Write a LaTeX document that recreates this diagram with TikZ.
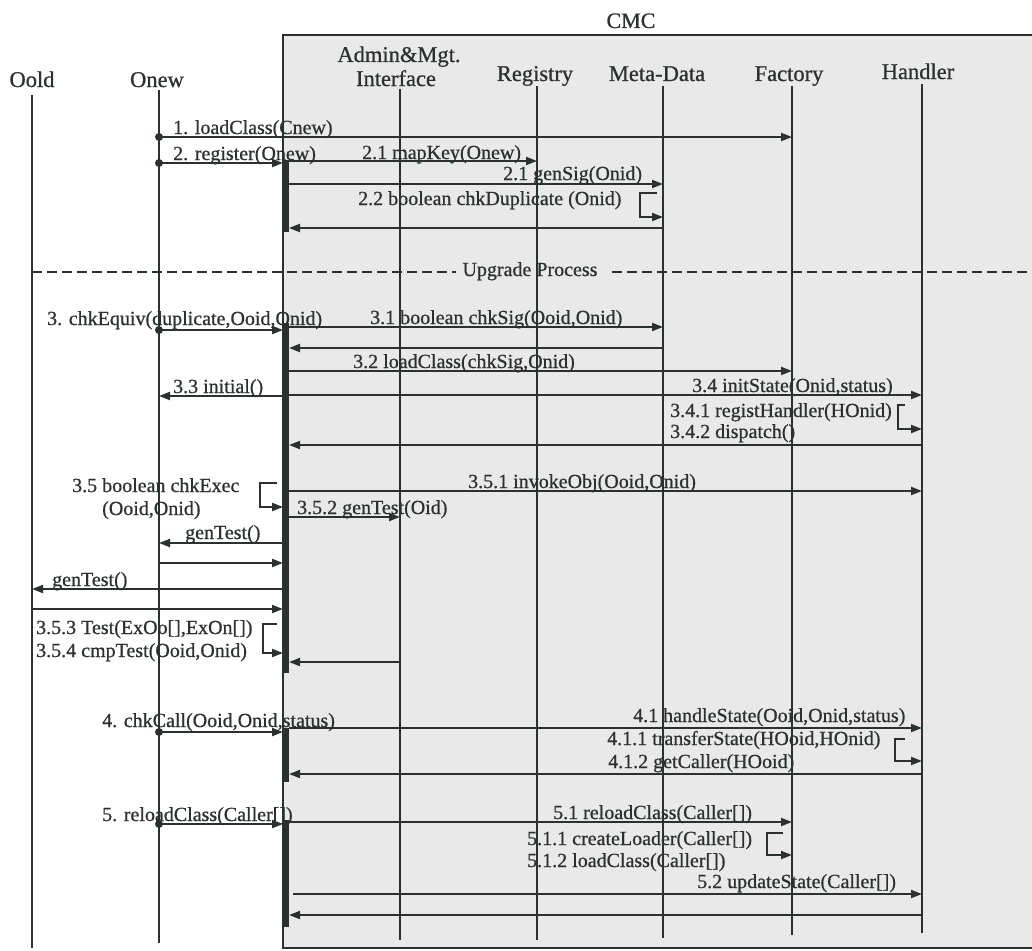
\documentclass[tikz,border=0pt]{standalone}
\usepackage{fontspec}
\setmainfont{Liberation Serif}
\newfontfamily\labelfont{Liberation Serif}[FakeBold=0.7]
\usetikzlibrary{arrows.meta}
\definecolor{ink}{HTML}{2B3030}
\definecolor{panel}{HTML}{E9E9E9}
\begin{document}
\begin{tikzpicture}[x=1pt,y=-1pt,
  font=\labelfont\fontsize{20}{24}\selectfont, text=ink,
  every node/.style={inner sep=0pt},
  lbl/.style={anchor=base west},
  head/.style={anchor=base,font=\labelfont\fontsize{22.5}{26}\selectfont},
  life/.style={draw=ink,line width=2pt},
  msg/.style={draw=ink,line width=2pt,-{Triangle[length=11pt,width=8pt]}},
  bracket/.style={draw=ink,line width=2pt,-{Triangle[length=11pt,width=8pt]}},
  actbar/.style={draw=ink,line width=5pt},
  startdot/.style={circle,fill=ink,minimum size=8pt},
  phase/.style={draw=ink,line width=2.6pt,dash pattern=on 10pt off 5pt}
]
\clip (0,0) rectangle (1032,950);
\fill[white] (0,0) rectangle (1032,950);

% CMC component frame
\fill[panel] (283,35) rectangle (1040,948);
\draw[ink,line width=2.5pt] (1040,35) -- (283,35) -- (283,948) -- (1040,948);
\node[head,font=\labelfont\fontsize{22}{26}\selectfont] (cmc) at (631,28) {CMC};

% lifeline positions
\coordinate (oold) at (32,0);
\coordinate (onew) at (159,0);
\coordinate (ifcL) at (283,0);
\coordinate (ifcR) at (289,0);
\coordinate (ifc)  at (400,0);
\coordinate (reg)  at (537,0);
\coordinate (meta) at (663,0);
\coordinate (fact) at (792,0);
\coordinate (hand) at (922,0);

% headers
\node[head] (hOold) at (32,87) {Oold};
\node[head] (hOnew) at (157,87) {Onew};
\node[head] (hAdm)  at (399,62) {Admin\&Mgt.};
\node[head] (hIfc)  at (396,86) {Interface};
\node[head] (hReg)  at (535,81) {Registry};
\node[head] (hMeta) at (657,81) {Meta-Data};
\node[head] (hFact) at (789,81) {Factory};
\node[head] (hHand) at (918,79) {Handler};

% lifelines
\draw[life] (oold |- 0,95) -- (oold |- 0,948);
\draw[life] (onew |- 0,90) -- (onew |- 0,943);
\draw[life] (ifc  |- 0,89) -- (ifc  |- 0,940);
\draw[life] (reg  |- 0,86) -- (reg  |- 0,940);
\draw[life] (meta |- 0,86) -- (meta |- 0,938);
\draw[life] (fact |- 0,86) -- (fact |- 0,935);
\draw[life] (hand |- 0,84) -- (hand |- 0,933);

% activation of the interface
\draw[actbar] (286,160) -- (286,232);
\draw[actbar] (286,323) -- (286,673);
\draw[actbar] (286,728) -- (286,782);
\draw[actbar] (286,820) -- (286,927);

% registration
\draw[msg] (onew |- 0,137) -- (fact |- 0,137);
\node[startdot] (d1) at (onew |- 0,137) {};
\node[lbl] (m1) at (173,134) {1. loadClass(Cnew)};
\draw[msg] (onew |- 0,163) -- (ifcL |- 0,163);
\node[startdot] (d2) at (onew |- 0,163) {};
\node[lbl] (m2) at (173,160) {2. register(Onew)};
\draw[msg] (ifcR |- 0,161) -- (reg |- 0,161);
\node[lbl] (m21) at (362,159) {2.1 mapKey(Onew)};
\draw[msg] (ifcR |- 0,184) -- (meta |- 0,184);
\node[lbl] (m21b) at (503,180) {2.1 genSig(Onid)};
\node[lbl] (m22) at (358,205) {2.2 boolean chkDuplicate (Onid)};
\draw[bracket] (657,193) -- (640,193) -- (640,217) -- (meta |- 0,217);
\draw[msg] (meta |- 0,228) -- (ifcR |- 0,228);

% upgrade phase separator
\node[anchor=base] (upg) at (530,276) {Upgrade Process};
\draw[phase] (oold |- 0,272) -- ([xshift=-6pt]upg.west |- 0,272);
\draw[phase] ([xshift=14pt]upg.east |- 0,272) -- (1032,272);

% step 3
\draw[msg] (onew |- 0,330) -- (ifcL |- 0,330);
\node[startdot] (d3) at (onew |- 0,330) {};
\node[lbl] (m3) at (47,325) {3. chkEquiv(duplicate,Ooid,Onid)};
\draw[msg] (ifcR |- 0,327) -- (meta |- 0,327);
\node[lbl] (m31) at (370,324) {3.1 boolean chkSig(Ooid,Onid)};
\draw[msg] (meta |- 0,348) -- (ifcR |- 0,348);
\draw[msg] (ifcR |- 0,371) -- (fact |- 0,371);
\node[lbl] (m32) at (353,368) {3.2 loadClass(chkSig,Onid)};
\draw[msg] (ifcL |- 0,396) -- (onew |- 0,396);
\node[lbl] (m33) at (173,393) {3.3 initial()};
\draw[msg] (ifcR |- 0,395) -- (hand |- 0,395);
\node[lbl] (m34) at (692,392) {3.4 initState(Onid,status)};
\node[lbl] (m341) at (670,417) {3.4.1 registHandler(HOnid)};
\node[lbl] (m342) at (670,438) {3.4.2 dispatch()};
\draw[bracket] (905,405) -- (898,405) -- (898,429) -- (hand |- 0,429);
\draw[msg] (hand |- 0,445) -- (ifcR |- 0,445);

% step 3.5
\node[lbl] (m35) at (72,492) {3.5 boolean chkExec};
\node[lbl] (m35b) at (102,515) {(Ooid,Onid)};
\draw[bracket] (277,483) -- (260,483) -- (260,507) -- (ifcL |- 0,507);
\draw[msg] (ifcR |- 0,491) -- (hand |- 0,491);
\node[lbl] (m351) at (468,488) {3.5.1 invokeObj(Ooid,Onid)};
\draw[msg] (ifcR |- 0,517) -- (ifc |- 0,517);
\node[lbl] (m352) at (297,514) {3.5.2 genTest(Oid)};
\draw[msg] (ifcL |- 0,543) -- (onew |- 0,543);
\node[lbl] (gt1) at (185,539) {genTest()};
\draw[msg] (onew |- 0,563) -- (ifcL |- 0,563);
\draw[msg] (ifcL |- 0,589) -- (oold |- 0,589);
\node[lbl] (gt2) at (52,586) {genTest()};
\draw[msg] (oold |- 0,609) -- (ifcL |- 0,609);
\node[lbl] (m353) at (36,634) {3.5.3 Test(ExOo[],ExOn[])};
\node[lbl] (m354) at (36,657) {3.5.4 cmpTest(Ooid,Onid)};
\draw[bracket] (277,624) -- (263,624) -- (263,653) -- (ifcL |- 0,653);
\draw[msg] (ifc |- 0,662) -- (ifcR |- 0,662);

% step 4
\draw[msg] (onew |- 0,732) -- (ifcL |- 0,732);
\node[startdot] (d4) at (onew |- 0,732) {};
\node[lbl] (m4) at (102,727) {4. chkCall(Ooid,Onid,status)};
\draw[msg] (ifcR |- 0,728) -- (hand |- 0,728);
\node[lbl] (m41) at (633,722) {4.1 handleState(Ooid,Onid,status)};
\node[lbl] (m411) at (607,745) {4.1.1 transferState(HOoid,HOnid)};
\node[lbl] (m412) at (608,768) {4.1.2 getCaller(HOoid)};
\draw[bracket] (905,739) -- (895,739) -- (895,761) -- (hand |- 0,761);
\draw[msg] (hand |- 0,774) -- (ifcR |- 0,774);

% step 5
\draw[msg] (onew |- 0,824) -- (ifcL |- 0,824);
\node[startdot] (d5) at (onew |- 0,824) {};
\node[lbl] (m5) at (102,821) {5. reloadClass(Caller[])};
\draw[msg] (ifcR |- 0,822) -- (fact |- 0,822);
\node[lbl] (m51) at (553,819) {5.1 reloadClass(Caller[])};
\node[lbl] (m511) at (527,845) {5.1.1 createLoader(Caller[])};
\node[lbl] (m512) at (527,867) {5.1.2 loadClass(Caller[])};
\draw[bracket] (783,833) -- (767,833) -- (767,855) -- (fact |- 0,855);
\coordinate (s52) at (293,894);
\draw[msg] (s52) -- (hand |- s52);
\node[lbl] (m52) at (697,888) {5.2 updateState(Caller[])};
\draw[msg] (hand |- 0,915) -- (ifcR |- 0,915);
\end{tikzpicture}
\end{document}
